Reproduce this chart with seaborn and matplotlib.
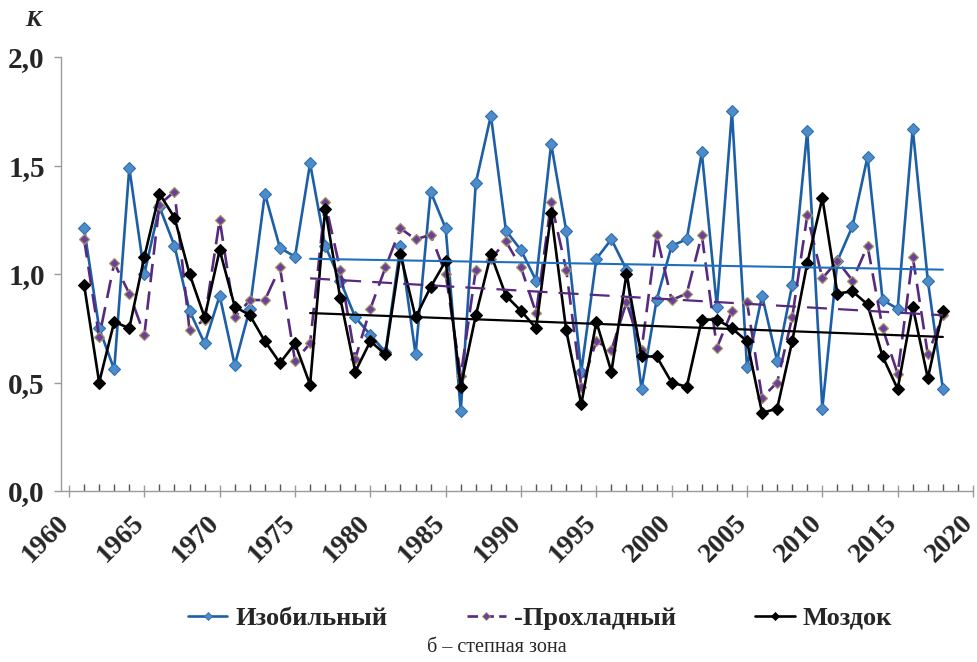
import numpy as np
import pandas as pd
import matplotlib
matplotlib.use("Agg")
import matplotlib.pyplot as plt
import matplotlib.transforms as mtransforms
from matplotlib.ticker import MultipleLocator, FuncFormatter
from matplotlib.lines import Line2D
import seaborn as sns

# Annual coefficient K by station, 1961-2018
years = list(range(1961, 2019))

izobilny = [1.21, 0.75, 0.56, 1.49, 1.00, 1.31, 1.13, 0.83, 0.68, 0.90,
            0.58, 0.84, 1.37, 1.12, 1.08, 1.51, 1.13, 0.97, 0.80, 0.72,
            0.64, 1.13, 0.63, 1.38, 1.21, 0.37, 1.42, 1.73, 1.20, 1.11,
            0.97, 1.60, 1.20, 0.55, 1.07, 1.16, 1.02, 0.47, 0.88, 1.13,
            1.16, 1.56, 0.85, 1.75, 0.57, 0.90, 0.60, 0.95, 1.66, 0.38,
            1.06, 1.22, 1.54, 0.88, 0.84, 1.67, 0.97, 0.47]

prokhladny = [1.16, 0.71, 1.05, 0.91, 0.72, 1.32, 1.38, 0.74, 0.79, 1.25,
              0.80, 0.88, 0.88, 1.03, 0.60, 0.68, 1.33, 1.02, 0.61, 0.84,
              1.03, 1.21, 1.16, 1.18, 1.00, 0.53, 1.02, 1.07, 1.15, 1.03,
              0.82, 1.33, 1.02, 0.48, 0.69, 0.65, 0.87, 0.65, 1.18, 0.88,
              0.91, 1.18, 0.66, 0.83, 0.87, 0.43, 0.50, 0.80, 1.27, 0.98,
              1.06, 0.97, 1.13, 0.75, 0.54, 1.08, 0.63, 0.81]

mozdok = [0.95, 0.50, 0.78, 0.75, 1.08, 1.37, 1.26, 1.00, 0.80, 1.11,
          0.85, 0.81, 0.69, 0.59, 0.68, 0.49, 1.30, 0.89, 0.55, 0.69,
          0.63, 1.09, 0.80, 0.94, 1.06, 0.48, 0.81, 1.09, 0.90, 0.83,
          0.75, 1.28, 0.74, 0.40, 0.78, 0.55, 1.00, 0.62, 0.62, 0.50,
          0.48, 0.79, 0.79, 0.75, 0.69, 0.36, 0.38, 0.69, 1.05, 1.35,
          0.91, 0.92, 0.86, 0.62, 0.47, 0.85, 0.52, 0.83]

# Linear trends over 1976-2018 (end values)
trend_years = [1976, 2018]
trend_izobilny = [1.07, 1.02]
trend_prokhladny = [0.98, 0.81]
trend_mozdok = [0.82, 0.71]

stations = ["Изобильный", "Прохладный", "Моздок"]
legend_labels = ["Изобильный", "-Прохладный", "Моздок"]
y_ticks = [0.0, 0.5, 1.0, 1.5, 2.0]
x_ticks = list(range(1960, 2021, 5))

df = pd.DataFrame({
    "year": years * 3,
    "K": izobilny + prokhladny + mozdok,
    "station": sum([[s] * len(years) for s in stations], []),
})
trends = pd.DataFrame({
    "year": trend_years * 3,
    "K": trend_izobilny + trend_prokhladny + trend_mozdok,
    "station": sum([[s] * 2 for s in stations], []),
})

sns.set_style("white")
plt.rcParams["font.family"] = ["Liberation Serif", "DejaVu Serif"]

fig = plt.figure(figsize=(9.77, 6.62), dpi=100)
ax = fig.add_axes([61.5 / 977, 1 - 491 / 662, (973 - 61.5) / 977, (491 - 57) / 662])

styles = {
    "Изобильный": dict(color="#1d5fa6", lw=1.9, ms=6.2,
                       mfc="#4d8cc8", mec="#2f6fb0", mew=0.8, dashes=None),
    "Прохладный": dict(color="#57297f", lw=1.9, ms=5.0,
                       mfc="#6b3fa0", mec="#a39560", mew=0.9, dashes=(7, 3.5)),
    "Моздок": dict(color="#000000", lw=1.9, ms=6.2,
                   mfc="#000000", mec="#000000", mew=0.8, dashes=None),
}
trend_styles = {
    "Изобильный": dict(color="#1f6fbf", lw=1.5, dashes=None),
    "Прохладный": dict(color="#57297f", lw=1.6, dashes=(9, 5)),
    "Моздок": dict(color="#000000", lw=1.6, dashes=None),
}

for st in stations:
    s = styles[st]
    sub = df[df["station"] == st]
    sns.lineplot(data=sub, x="year", y="K", ax=ax, color=s["color"], lw=s["lw"],
                 marker="D", markersize=s["ms"], markerfacecolor=s["mfc"],
                 markeredgecolor=s["mec"], markeredgewidth=s["mew"],
                 legend=False, errorbar=None)
    if s["dashes"] is not None:
        ax.lines[-1].set_dashes(s["dashes"])

for st in stations:
    t = trend_styles[st]
    sub = trends[trends["station"] == st]
    sns.lineplot(data=sub, x="year", y="K", ax=ax, color=t["color"], lw=t["lw"],
                 legend=False, errorbar=None)
    if t["dashes"] is not None:
        ax.lines[-1].set_dashes(t["dashes"])

ax.set_xlim(1959.5, 2020)
ax.set_ylim(0, 2.0)
ax.set_xlabel("")
ax.set_ylabel("")

for side in ("top", "right"):
    ax.spines[side].set_visible(False)
for side in ("left", "bottom"):
    ax.spines[side].set_color("#9a9a9a")
    ax.spines[side].set_linewidth(1.0)

ax.set_yticks(y_ticks)
ax.yaxis.set_major_formatter(FuncFormatter(lambda v, p: f"{v:.1f}".replace(".", ",")))
ax.set_xticks(x_ticks)
ax.xaxis.set_minor_locator(MultipleLocator(1))

ax.tick_params(axis="y", which="major", direction="out", length=5, width=1,
               color="#9a9a9a", labelsize=21, pad=7, left=True)
ax.tick_params(axis="x", which="major", direction="inout", length=9, width=1,
               color="#9a9a9a", labelsize=20, pad=16, bottom=True)
ax.tick_params(axis="x", which="minor", direction="in", length=5, width=1,
               color="#555555", bottom=True)
for lab in ax.get_yticklabels():
    lab.set_fontweight("bold")
shift = mtransforms.ScaledTranslation(-4 / 100, 0, fig.dpi_scale_trans)
for lab in ax.get_xticklabels():
    lab.set_fontweight("bold")
    lab.set_rotation(45)
    lab.set_ha("right")
    lab.set_va("center")
    lab.set_rotation_mode("anchor")
    lab.set_transform(lab.get_transform() + shift)

fig.text(33 / 977, 1 - 20 / 662, "К", fontsize=17, fontweight="bold",
         fontstyle="italic", ha="center", va="center")

handles = []
for st in stations:
    s = styles[st]
    h = Line2D([], [], color=s["color"], lw=s["lw"], marker="D", ms=4,
               mfc=s["mfc"], mec=s["mec"], mew=0.6)
    if s["dashes"] is not None:
        h.set_dashes((4, 2))
    handles.append(h)
fig.legend(handles, legend_labels, loc="center", bbox_to_anchor=(540 / 977, 1 - 618 / 662),
           ncol=3, frameon=False, handlelength=1.5, handletextpad=0.3,
           columnspacing=3.0, prop=dict(size=19, weight="bold"))

fig.text(497 / 977, 1 - 648 / 662, "б – степная зона", fontsize=14.5,
         ha="center", va="center")

fig.savefig("out.png", dpi=100)
